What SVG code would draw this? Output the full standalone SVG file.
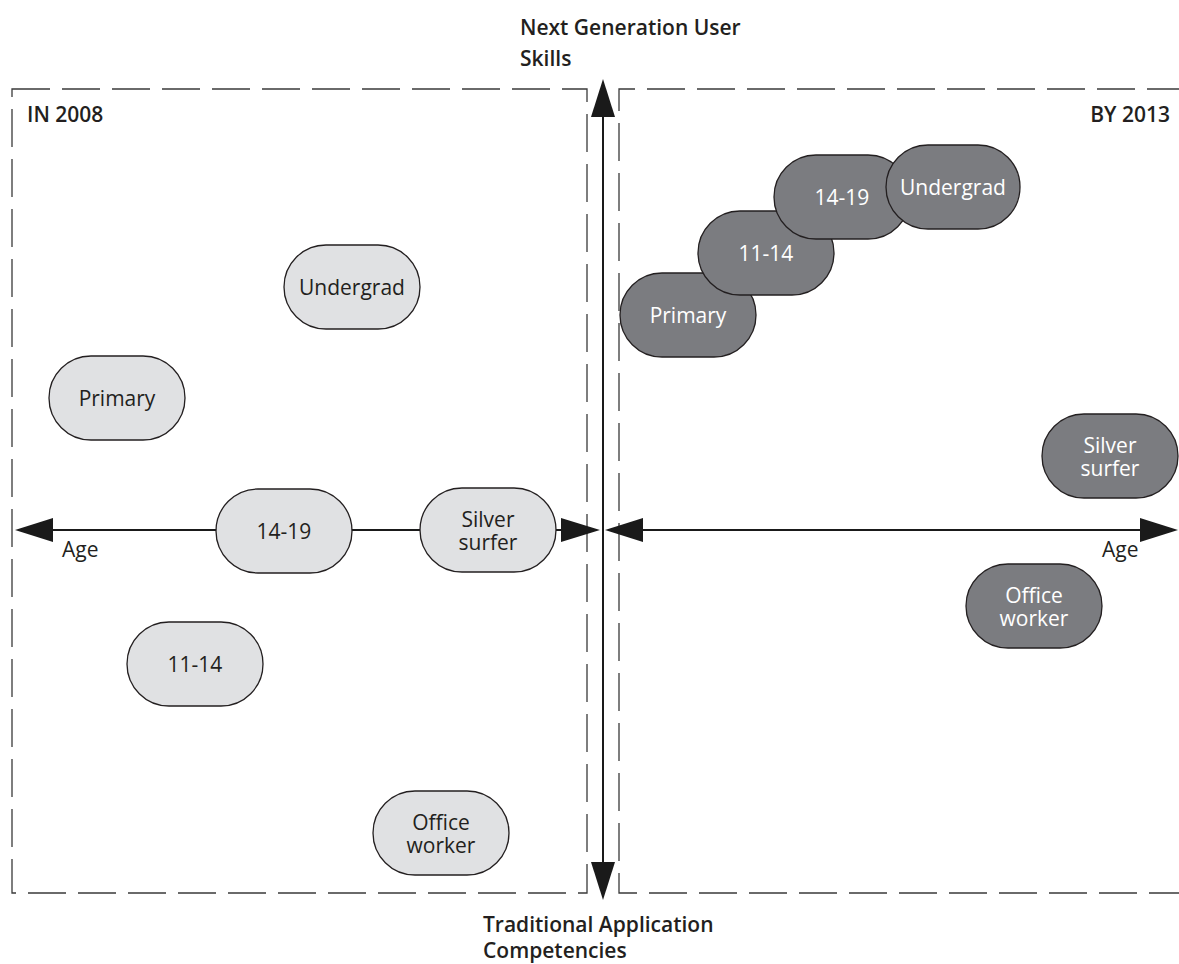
<svg xmlns="http://www.w3.org/2000/svg" width="1179" height="964" viewBox="0 0 1179 964">
  <style>
    .frame { fill: none; stroke: #3a3a3a; stroke-width: 1.3; stroke-dasharray: 38 12; }
    .axis { fill: none; stroke: #1a1a1a; stroke-width: 2; }
    .head { fill: #1a1a1a; stroke: none; }
    .light { fill: #e0e1e3; stroke: #231f20; stroke-width: 1.3; }
    .dark { fill: #7b7c80; stroke: #231f20; stroke-width: 1.3; }
    .lbl { font-family: "Open Sans", "Liberation Sans", sans-serif; font-size: 21px; text-anchor: middle; }
    .lbl-dark { fill: #231f20; }
    .lbl-light { fill: #ffffff; }
    .title { font-family: "Open Sans", "Liberation Sans", sans-serif; font-size: 21px; font-weight: 600; fill: #231f20; }
    .age { font-family: "Open Sans", "Liberation Sans", sans-serif; font-size: 21px; fill: #231f20; }
  </style>

  <rect width="1179" height="964" fill="#ffffff"/>

  <!-- period panels -->
  <g id="panel-2008">
    <path class="frame" d="M 12 89 H 587 V 893 H 12 Z"/>
    <text class="title" x="27" y="122">IN 2008</text>
  </g>
  <g id="panel-2013">
    <path class="frame" d="M 1185 89 H 619 V 893 H 1185"/>
    <text class="title" x="1170" y="122" text-anchor="end">BY 2013</text>
  </g>

  <!-- axes -->
  <g id="connectors">
    <!-- vertical skills axis -->
    <line class="axis" x1="603" y1="110" x2="603" y2="868"/>
    <polygon class="head" points="603,79 591,117 615,117"/>
    <polygon class="head" points="603,900 591,862 615,862"/>
    <!-- left age axis -->
    <line class="axis" x1="45" y1="530" x2="570" y2="530"/>
    <polygon class="head" points="15,530 53,518 53,542"/>
    <polygon class="head" points="600,530 561,518 561,542"/>
    <!-- right age axis -->
    <line class="axis" x1="635" y1="530" x2="1150" y2="530"/>
    <polygon class="head" points="605,530 643,518 643,542"/>
    <polygon class="head" points="1178,530 1140,518 1140,542"/>
  </g>

  <!-- axis labels -->
  <g id="axis-labels">
    <text class="title" x="520" y="35">Next Generation User<tspan x="520" y="66">Skills</tspan></text>
    <text class="title" x="483" y="932">Traditional Application<tspan x="483" y="958">Competencies</tspan></text>
    <text class="age" x="62" y="557">Age</text>
    <text class="age" x="1102" y="557">Age</text>
  </g>

  <!-- 2008 groups -->
  <g id="n2008-undergrad">
    <rect class="light" x="284" y="245" width="136" height="84" rx="42"/>
    <text class="lbl lbl-dark" x="352" y="295">Undergrad</text>
  </g>
  <g id="n2008-primary">
    <rect class="light" x="49" y="356" width="136" height="84" rx="42"/>
    <text class="lbl lbl-dark" x="117" y="406">Primary</text>
  </g>
  <g id="n2008-14-19">
    <rect class="light" x="216" y="489" width="136" height="84" rx="42"/>
    <text class="lbl lbl-dark" x="284" y="539">14-19</text>
  </g>
  <g id="n2008-silver">
    <rect class="light" x="420" y="488" width="136" height="84" rx="42"/>
    <text class="lbl lbl-dark" x="488" y="527">Silver<tspan x="488" y="550">surfer</tspan></text>
  </g>
  <g id="n2008-11-14">
    <rect class="light" x="127" y="622" width="136" height="84" rx="42"/>
    <text class="lbl lbl-dark" x="195" y="672">11-14</text>
  </g>
  <g id="n2008-office">
    <rect class="light" x="373" y="791" width="136" height="84" rx="42"/>
    <text class="lbl lbl-dark" x="441" y="830">Office<tspan x="441" y="853">worker</tspan></text>
  </g>

  <!-- 2013 groups (stacked in drawing order) -->
  <g id="n2013-primary">
    <rect class="dark" x="620" y="273" width="136" height="84" rx="42"/>
    <text class="lbl lbl-light" x="688" y="323">Primary</text>
  </g>
  <g id="n2013-11-14">
    <rect class="dark" x="698" y="211" width="136" height="84" rx="42"/>
    <text class="lbl lbl-light" x="766" y="261">11-14</text>
  </g>
  <g id="n2013-14-19">
    <rect class="dark" x="774" y="155" width="136" height="84" rx="42"/>
    <text class="lbl lbl-light" x="842" y="205">14-19</text>
  </g>
  <g id="n2013-undergrad">
    <rect class="dark" x="886" y="145" width="134" height="84" rx="42"/>
    <text class="lbl lbl-light" x="953" y="195">Undergrad</text>
  </g>
  <g id="n2013-silver">
    <rect class="dark" x="1042" y="414" width="136" height="84" rx="42"/>
    <text class="lbl lbl-light" x="1110" y="453">Silver<tspan x="1110" y="476">surfer</tspan></text>
  </g>
  <g id="n2013-office">
    <rect class="dark" x="966" y="564" width="136" height="84" rx="42"/>
    <text class="lbl lbl-light" x="1034" y="603">Office<tspan x="1034" y="626">worker</tspan></text>
  </g>
</svg>
